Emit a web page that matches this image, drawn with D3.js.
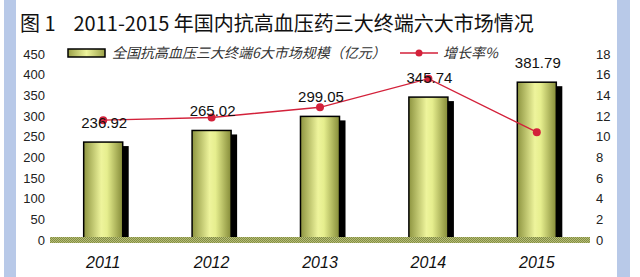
<!DOCTYPE html>
<html>
<head>
<meta charset="utf-8">
<script src="https://cdn.jsdelivr.net/npm/d3@7"></script>
<style>
  body { margin: 0; background: #fff; }
  text { font-family: "Liberation Sans", Arial, sans-serif; }
</style>
</head>
<body>
<div id="chart"></div>
<script>
// chart data
const years = ["2011", "2012", "2013", "2014", "2015"];
const marketSize = [236.92, 265.02, 299.05, 345.74, 381.79];
const growthRate = [11.6, 11.86, 12.84, 15.61, 10.43];
const leftTicks = [0, 50, 100, 150, 200, 250, 300, 350, 400, 450];
const rightTicks = [0, 2, 4, 6, 8, 10, 12, 14, 16, 18];
const titleText = "图 1\u00a0\u00a0\u00a0 2011-2015 年国内抗高血压药三大终端六大市场情况";
const barLegend = "全国抗高血压三大终端6大市场规模（亿元）";
const lineLegend = "增长率%";

const W = 640, H = 277;
const svg = d3.select("#chart").append("svg")
    .attr("width", W)
    .attr("height", H);

const defs = svg.append("defs");

// bar gradient: dark olive edges, pale centre
const grad = defs.append("linearGradient")
    .attr("id", "barGrad")
    .attr("x1", "0%").attr("x2", "100%").attr("y1", "0%").attr("y2", "0%");
grad.append("stop").attr("offset", "0%").attr("stop-color", "#8d9440");
grad.append("stop").attr("offset", "45%").attr("stop-color", "#eef49c");
grad.append("stop").attr("offset", "60%").attr("stop-color", "#e6ee8e");
grad.append("stop").attr("offset", "100%").attr("stop-color", "#858b38");

// legend swatch gradient
const grad2 = defs.append("linearGradient")
    .attr("id", "swGrad")
    .attr("x1", "0%").attr("x2", "100%").attr("y1", "0%").attr("y2", "0%");
grad2.append("stop").attr("offset", "0%").attr("stop-color", "#9aa048");
grad2.append("stop").attr("offset", "50%").attr("stop-color", "#eef49c");
grad2.append("stop").attr("offset", "100%").attr("stop-color", "#9aa048");

// hatched floor pattern
const pat = defs.append("pattern")
    .attr("id", "floorPat")
    .attr("width", 2).attr("height", 2)
    .attr("patternUnits", "userSpaceOnUse");
pat.append("rect").attr("width", 2).attr("height", 2).attr("fill", "#b6bb78");
pat.append("rect").attr("width", 1).attr("height", 1).attr("fill", "#838f42");
pat.append("rect").attr("x", 1).attr("y", 1).attr("width", 1).attr("height", 1).attr("fill", "#838f42");

// side frame strips
svg.append("rect").attr("x", 4).attr("y", 0).attr("width", 12).attr("height", H).attr("fill", "#b8c9e8");
svg.append("rect").attr("x", 617).attr("y", 0).attr("width", 13).attr("height", H).attr("fill", "#b8c9e8");

// title
svg.append("text")
    .attr("x", 20)
    .attr("y", 31)
    .style("font-family", "'Noto Sans CJK SC', 'Noto Sans', sans-serif")
    .style("font-size", "20px")
    .attr("fill", "#111")
    .text(titleText);

// scales
const x = d3.scaleBand()
    .domain(years)
    .range([49, 591])
    .paddingInner(0.64)
    .paddingOuter(0.32);
const y = d3.scaleLinear().domain([0, 450]).range([240, 54]);
const y2 = d3.scaleLinear().domain([0, 18]).range([240, 54]);

// left axis
svg.append("g")
    .attr("transform", "translate(49,0)")
    .call(d3.axisLeft(y).tickValues(leftTicks).tickSize(0).tickPadding(4))
    .call(g => g.select(".domain").remove())
    .call(g => g.selectAll("text")
        .style("font-family", "'Liberation Sans', Arial, sans-serif")
        .style("font-size", "13px")
        .attr("fill", "#222"));

// right axis
svg.append("g")
    .attr("transform", "translate(592,0)")
    .call(d3.axisRight(y2).tickValues(rightTicks).tickSize(0).tickPadding(4))
    .call(g => g.select(".domain").remove())
    .call(g => g.selectAll("text")
        .style("font-family", "'Liberation Sans', Arial, sans-serif")
        .style("font-size", "13px")
        .attr("fill", "#222"));

const data = years.map((yr, i) => ({ year: yr, size: marketSize[i], rate: growthRate[i] }));

// bar shadows
svg.selectAll(".shadow")
    .data(data)
  .enter().append("rect")
    .attr("class", "shadow")
    .attr("x", d => x(d.year) + 6)
    .attr("y", d => y(d.size) + 4)
    .attr("width", x.bandwidth())
    .attr("height", d => y(0) - y(d.size) - 4)
    .attr("fill", "#000");

// bars
svg.selectAll(".bar")
    .data(data)
  .enter().append("rect")
    .attr("class", "bar")
    .attr("x", d => x(d.year))
    .attr("y", d => y(d.size))
    .attr("width", x.bandwidth())
    .attr("height", d => y(0) - y(d.size))
    .attr("fill", "url(#barGrad)")
    .attr("stroke", "#000")
    .attr("stroke-width", 1.5);

// floor
svg.append("rect")
    .attr("x", 50)
    .attr("y", y(0) - 3)
    .attr("width", 540)
    .attr("height", 6)
    .attr("fill", "url(#floorPat)");

// growth line
const line = d3.line()
    .x(d => x(d.year) + x.bandwidth() / 2)
    .y(d => y2(d.rate));

svg.append("path")
    .datum(data)
    .attr("d", line)
    .attr("fill", "none")
    .attr("stroke", "#d3213a")
    .attr("stroke-width", 1.4);

svg.selectAll(".dot")
    .data(data)
  .enter().append("circle")
    .attr("class", "dot")
    .attr("cx", d => x(d.year) + x.bandwidth() / 2)
    .attr("cy", d => y2(d.rate))
    .attr("r", 4)
    .attr("fill", "#d3213a");

// value labels
svg.selectAll(".val")
    .data(data)
  .enter().append("text")
    .attr("class", "val")
    .attr("x", d => x(d.year) + x.bandwidth() / 2 + 1)
    .attr("y", d => y(d.size) - 14)
    .attr("text-anchor", "middle")
    .style("font-size", "15px")
    .attr("fill", "#111")
    .text(d => d.size.toFixed(2));

// x labels
svg.selectAll(".xl")
    .data(years)
  .enter().append("text")
    .attr("class", "xl")
    .attr("x", d => x(d) + x.bandwidth() / 2)
    .attr("y", 268)
    .attr("text-anchor", "middle")
    .style("font-size", "16px")
    .style("font-style", "italic")
    .attr("fill", "#111")
    .text(d => d);

// legend
svg.append("rect")
    .attr("x", 68).attr("y", 49)
    .attr("width", 37).attr("height", 8)
    .attr("fill", "url(#swGrad)")
    .attr("stroke", "#000")
    .attr("stroke-width", 1.5);
svg.append("text")
    .attr("x", 112).attr("y", 58)
    .style("font-family", "'Noto Sans CJK SC', sans-serif")
    .style("font-size", "14px")
    .style("font-style", "italic")
    .attr("fill", "#333")
    .text(barLegend);
svg.append("line")
    .attr("x1", 400).attr("x2", 438)
    .attr("y1", 53).attr("y2", 53)
    .attr("stroke", "#d3213a")
    .attr("stroke-width", 1.4);
svg.append("circle")
    .attr("cx", 419).attr("cy", 53).attr("r", 3.5)
    .attr("fill", "#d3213a");
svg.append("text")
    .attr("x", 443).attr("y", 58)
    .style("font-family", "'Noto Sans CJK SC', sans-serif")
    .style("font-size", "14px")
    .style("font-style", "italic")
    .attr("fill", "#333")
    .text(lineLegend);
</script>
</body>
</html>
